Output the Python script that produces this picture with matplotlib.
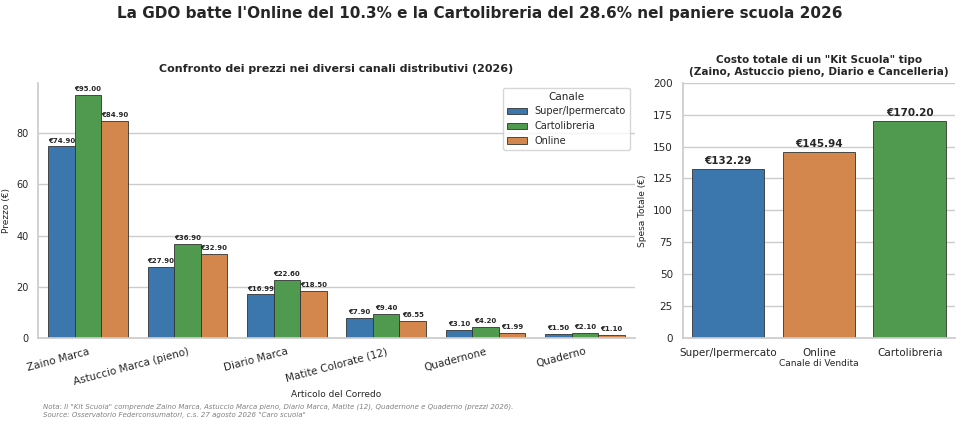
import numpy as np
import pandas as pd
import seaborn as sns
from matplotlib import pyplot as plt

# data
articoli = ['Zaino Marca', 'Astuccio Marca (pieno)', 'Diario Marca',
            'Matite Colorate (12)', 'Quadernone', 'Quaderno']
canali = ['Super/Ipermercato', 'Cartolibreria', 'Online']
super_iper = [74.90, 27.90, 16.99, 7.90, 3.10, 1.50]
cartolibreria = [95.00, 36.90, 22.60, 9.40, 4.20, 2.10]
online = [84.90, 32.90, 18.50, 6.55, 1.99, 1.10]

kit_canali = ['Super/Ipermercato', 'Online', 'Cartolibreria']
kit_totali = [132.29, 145.94, 170.20]

sns.set_theme(style='whitegrid')
plt.rcParams['font.family'] = ['DejaVu Sans']

colori = {'Super/Ipermercato': '#3b77ac', 'Cartolibreria': '#4f9a4f', 'Online': '#d3874c'}

df = pd.DataFrame({
    'Articolo': articoli * 3,
    'Canale': ['Super/Ipermercato'] * 6 + ['Cartolibreria'] * 6 + ['Online'] * 6,
    'Prezzo': super_iper + cartolibreria + online,
})
df_kit = pd.DataFrame({'Canale': kit_canali, 'Totale': kit_totali})

fig = plt.figure(figsize=(9.6, 4.25), dpi=100)
ax1 = fig.add_axes([0.040, 0.205, 0.621, 0.600])
ax2 = fig.add_axes([0.711, 0.205, 0.284, 0.600])

sns.barplot(data=df, x='Articolo', y='Prezzo', hue='Canale', hue_order=canali,
            palette=colori, saturation=1, edgecolor='#333333', linewidth=0.6, ax=ax1)
for cont in ax1.containers:
    ax1.bar_label(cont, labels=['€%.2f' % v for v in cont.datavalues],
                  fontsize=5, fontweight='bold', padding=2)
ax1.set_title('Confronto dei prezzi nei diversi canali distributivi (2026)',
              fontsize=8, fontweight='bold', pad=8)
ax1.set_xlabel('Articolo del Corredo', fontsize=6.5, labelpad=2)
ax1.set_ylabel('Prezzo (€)', fontsize=6.5)
ax1.tick_params(axis='y', labelsize=7, pad=1)
ax1.tick_params(axis='x', labelsize=7.5, pad=0)
plt.setp(ax1.get_xticklabels(), rotation=15, ha='right', rotation_mode='anchor')
ax1.xaxis.grid(False)
ax1.legend(title='Canale', fontsize=7, title_fontsize=7.5, loc='upper right')
sns.despine(ax=ax1)

sns.barplot(data=df_kit, x='Canale', y='Totale', hue='Canale', palette=colori, saturation=1,
            edgecolor='#333333', linewidth=0.6, legend=False, ax=ax2)
for cont in ax2.containers:
    ax2.bar_label(cont, labels=['€%.2f' % v for v in cont.datavalues],
                  fontsize=7.5, fontweight='bold', padding=2)
ax2.set_title('Costo totale di un "Kit Scuola" tipo\n(Zaino, Astuccio pieno, Diario e Cancelleria)',
              fontsize=7.5, fontweight='bold', pad=6)
ax2.set_ylim(0, 200)
ax2.set_xlabel('Canale di Vendita', fontsize=6.5, labelpad=1)
ax2.set_ylabel('Spesa Totale (€)', fontsize=6.5)
ax2.tick_params(labelsize=7.5, pad=1)
ax2.xaxis.grid(False)
sns.despine(ax=ax2)

fig.suptitle("La GDO batte l'Online del 10.3% e la Cartolibreria del 28.6% nel paniere scuola 2026",
             fontsize=11, fontweight='bold', y=0.985)
fig.text(0.045, 0.018,
         'Nota: Il "Kit Scuola" comprende Zaino Marca, Astuccio Marca pieno, Diario Marca, Matite (12), '
         'Quadernone e Quaderno (prezzi 2026).\nSource: Osservatorio Federconsumatori, c.s. 27 agosto 2026 "Caro scuola"',
         fontsize=5, style='italic', color='grey', linespacing=1.4)

fig.savefig('out.png', dpi=100)
